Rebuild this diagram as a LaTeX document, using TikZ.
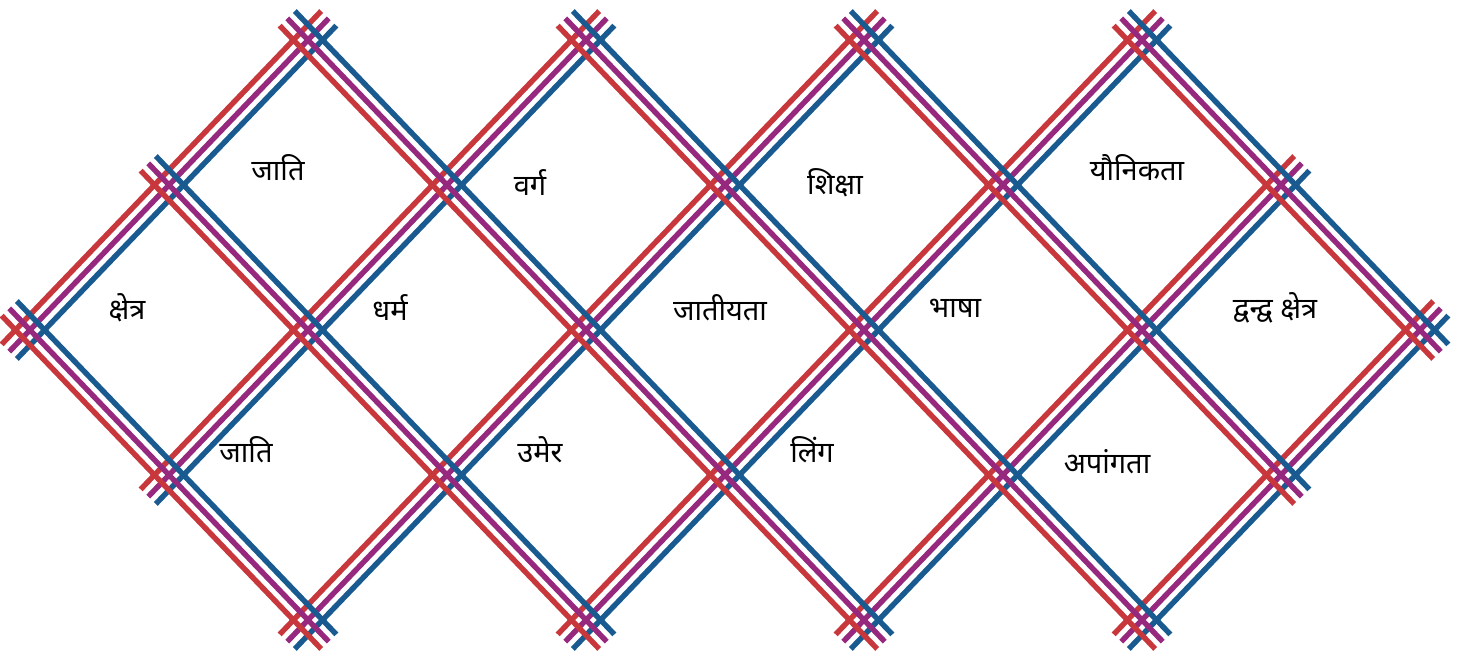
\documentclass[tikz,border=0pt]{standalone}
\usepackage{fontspec}
\newfontfamily\deva[Script=Devanagari]{Noto Sans}
\definecolor{lred}{RGB}{200,55,60}
\definecolor{lpur}{RGB}{150,40,125}
\definecolor{lblu}{RGB}{25,90,145}
\begin{document}
\begin{tikzpicture}[x=1pt,y=-1pt,
  band/.style={line width=5.4pt},
  lab/.style={font=\deva\fontsize{29}{34}\selectfont, inner sep=0pt, text=black}]
\useasboundingbox (0,0) rectangle (1479,663);
\def\e{30}
\def\d{10.5}
% lines rising to the right: fixed j, i from a to b
\foreach \j/\a/\b in {0/0/2,1/0/3,2/0/4,3/1/5,4/2/5,5/3/5} {
  \foreach \k/\c in {-1/lred,0/lpur,1/lblu} {
    \draw[band,color=\c]
      ({30+139*(\a+\j) - \e*0.6921 + \k*\d*0.7219}, {330+145*(\j-\a) + \e*0.7219 + \k*\d*0.6921})
      -- ({30+139*(\b+\j) + \e*0.6921 + \k*\d*0.7219}, {330+145*(\j-\b) - \e*0.7219 + \k*\d*0.6921});
  }
}
% lines falling to the right: fixed i, j from a to b
\foreach \i/\a/\b in {0/0/2,1/0/3,2/0/4,3/1/5,4/2/5,5/3/5} {
  \foreach \k/\c in {-1/lred,0/lpur,1/lblu} {
    \draw[band,color=\c]
      ({30+139*(\i+\a) - \e*0.6921 + \k*\d*0.7219}, {330+145*(\a-\i) - \e*0.7219 - \k*\d*0.6921})
      -- ({30+139*(\i+\b) + \e*0.6921 + \k*\d*0.7219}, {330+145*(\b-\i) + \e*0.7219 - \k*\d*0.6921});
  }
}
% labels
\node[lab] (t1) at (278,168) {जाति};
\node[lab] (t2) at (530,183) {वर्ग};
\node[lab] (t3) at (835,183) {शिक्षा};
\node[lab] (t4) at (1137,168) {यौनिकता};
\node[lab] (m1) at (127,308) {क्षेत्र};
\node[lab] (m2) at (390,308) {धर्म};
\node[lab] (m3) at (720,308) {जातीयता};
\node[lab] (m4) at (955,308) {भाषा};
\node[lab] (m5) at (1275,308) {द्वन्द्व क्षेत्र};
\node[lab] (b1) at (246,450) {जाति};
\node[lab] (b2) at (540,450) {उमेर};
\node[lab] (b3) at (812,450) {लिंग};
\node[lab] (b4) at (1107,462) {अपांगता};
\end{tikzpicture}
\end{document}
